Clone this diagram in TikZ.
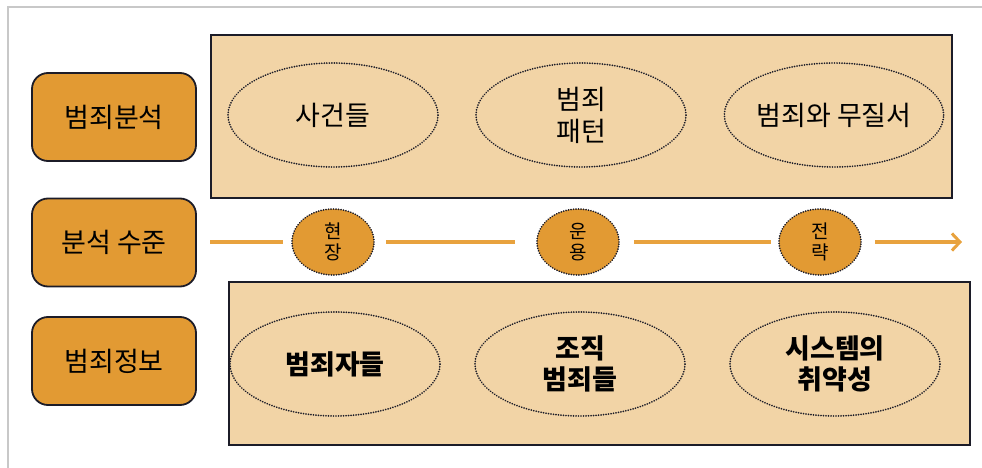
\documentclass[tikz,border=0pt]{standalone}
\usepackage{fontspec}
\newfontfamily\kr{Noto Sans CJK KR}
\usetikzlibrary{shapes.geometric,arrows.meta}
\definecolor{tanfill}{HTML}{F2D4A6}
\definecolor{org}{HTML}{E29A33}
\definecolor{flowc}{HTML}{E8A23E}
\definecolor{ink}{HTML}{1C1C28}
\definecolor{framec}{HTML}{C8C8C8}
\begin{document}
\begin{tikzpicture}[x=1pt,y=-1pt,
  labelbox/.style={draw=ink, line width=1.8pt, fill=org, rounded corners=16pt,
    minimum width=164pt, minimum height=88pt, inner sep=0pt,
    font=\kr\fontsize{27}{31}\selectfont},
  panel/.style={draw=ink, line width=2.2pt, fill=tanfill, minimum width=741pt,
    minimum height=163pt, inner sep=0pt},
  dotline/.style={dash pattern=on 0.01pt off 2.5pt, line cap=round, line width=1.9pt},
  oval/.style={ellipse, draw=ink, dotline,
    minimum width=210pt, minimum height=104pt, inner sep=0pt, align=center,
    font=\kr\fontsize{27}{32}\selectfont},
  boldoval/.style={oval, font=\kr\bfseries\fontsize{27}{31}\selectfont},
  stage/.style={ellipse, fill=org, draw=ink, dotline,
    minimum width=82pt, minimum height=66pt, inner sep=0pt,
    align=center, font=\kr\fontsize{19}{21}\selectfont},
  flow/.style={draw=flowc, line width=3.5pt}
]
\useasboundingbox (0,0) rectangle (982,468);
% frame lines
\coordinate (fa) at (8,468);
\coordinate (fb) at (8,7);
\coordinate (fc) at (982,7);
\draw[framec, line width=1.5pt] (fa) -- (fb) -- (fc);

% panels
\node[panel] (toppanel) at (581.5,116.5) {};
\node[panel] (botpanel) at (599.5,363.5) {};

% left labels
\node[labelbox] (l1) at (114,117) {범죄분석};
\node[labelbox] (l2) at (114,242.5) {분석 수준};
\node[labelbox] (l3) at (114,361) {범죄정보};

% top ovals
\node[oval] (t1) at (333,115) {사건들};
\node[oval] (t2) at (581,115) {범죄\\패턴};
\node[oval] (t3) at (834,115) {범죄와 무질서};

% bottom ovals
\node[boldoval] (b1) at (335,364) {범죄자들};
\node[boldoval] (b2) at (580,364) {조직\\범죄들};
\node[boldoval] (b3) at (835,364) {시스템의\\취약성};

% stages
\node[stage] (s1) at (333,242) {현\\장};
\node[stage] (s2) at (578,242) {운\\용};
\node[stage] (s3) at (820,242) {전\\략};

\coordinate (fstart) at (210,242);
\coordinate (fend) at (962,242);
\draw[flow, shorten >=8pt] (fstart) -- (s1);
\draw[flow, shorten <=11pt, shorten >=21pt] (s1) -- (s2);
\draw[flow, shorten <=14pt, shorten >=7pt] (s2) -- (s3);
\draw[flow, shorten <=13pt, -{Straight Barb[length=8pt,width=17pt,line width=3pt]}] (s3) -- (fend);
\end{tikzpicture}
\end{document}
